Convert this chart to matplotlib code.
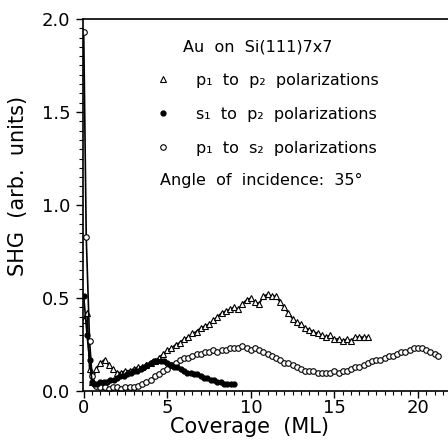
import matplotlib
matplotlib.use("Agg")
import matplotlib.pyplot as plt
from matplotlib.lines import Line2D
from matplotlib.ticker import MultipleLocator

# p1 to p2 (open triangles)
pp_x = [0.0, 0.2, 0.35, 0.5, 0.75, 1.0, 1.25, 1.5, 1.75, 2.0, 2.25, 2.5, 2.75, 3.0, 3.25, 3.5,
        3.75, 4.0, 4.25, 4.5, 4.75, 5.0, 5.25, 5.5, 5.75, 6.0, 6.25, 6.5, 6.75, 7.0, 7.25, 7.5,
        7.75, 8.0, 8.25, 8.5, 8.75, 9.0, 9.25, 9.5, 9.75, 10.0, 10.25, 10.5, 10.75, 11.0, 11.25,
        11.5, 11.75, 12.0, 12.25, 12.5, 12.75, 13.0, 13.25, 13.5, 13.75, 14.0, 14.25, 14.5, 14.75,
        15.0, 15.25, 15.5, 15.75, 16.0, 16.25, 16.5, 16.75, 17.0]
pp_y = [0.38, 0.42, 0.12, 0.05, 0.12, 0.15, 0.17, 0.14, 0.12, 0.10, 0.10, 0.11, 0.11, 0.12, 0.13, 0.13,
        0.14, 0.15, 0.16, 0.18, 0.20, 0.22, 0.23, 0.25, 0.26, 0.28, 0.29, 0.31, 0.32, 0.34, 0.35, 0.36,
        0.38, 0.40, 0.42, 0.43, 0.44, 0.45, 0.44, 0.47, 0.49, 0.50, 0.48, 0.47, 0.51, 0.52, 0.51,
        0.51, 0.48, 0.45, 0.42, 0.39, 0.37, 0.36, 0.34, 0.33, 0.32, 0.31, 0.30, 0.29, 0.30,
        0.28, 0.28, 0.27, 0.28, 0.27, 0.29, 0.29, 0.29, 0.29]

# s1 to p2 (filled circles)
sp_x = [0.0, 0.2, 0.35, 0.5, 0.6, 0.8, 1.0, 1.2, 1.4, 1.6, 1.8, 2.0, 2.2, 2.4, 2.6, 2.8, 3.0, 3.2,
        3.4, 3.6, 3.8, 4.0, 4.2, 4.4, 4.6, 4.8, 5.0, 5.2, 5.4, 5.6, 5.8, 6.0, 6.2, 6.4, 6.6, 6.8,
        7.0, 7.2, 7.4, 7.6, 7.8, 8.0, 8.2, 8.4, 8.6, 8.8, 9.0]
sp_y = [0.51, 0.30, 0.17, 0.05, 0.04, 0.04, 0.05, 0.05, 0.05, 0.06, 0.06, 0.07, 0.08, 0.08, 0.09, 0.10, 0.11, 0.11,
        0.12, 0.13, 0.14, 0.15, 0.16, 0.16, 0.16, 0.16, 0.15, 0.14, 0.13, 0.13, 0.12, 0.11, 0.10, 0.10, 0.09, 0.09,
        0.08, 0.07, 0.07, 0.06, 0.06, 0.05, 0.05, 0.04, 0.04, 0.04, 0.04]

# p1 to s2 (open circles)
ps_x = [0.0, 0.15, 0.35, 0.5, 0.75, 1.0, 1.25, 1.5, 1.75, 2.0, 2.25, 2.5, 2.75, 3.0, 3.25, 3.5,
        3.75, 4.0, 4.25, 4.5, 4.75, 5.0, 5.25, 5.5, 5.75, 6.0, 6.25, 6.5, 6.75, 7.0, 7.25, 7.5,
        7.75, 8.0, 8.25, 8.5, 8.75, 9.0, 9.25, 9.5, 9.75, 10.0, 10.25, 10.5, 10.75, 11.0, 11.25,
        11.5, 11.75, 12.0, 12.25, 12.5, 12.75, 13.0, 13.25, 13.5, 13.75, 14.0, 14.25, 14.5, 14.75,
        15.0, 15.25, 15.5, 15.75, 16.0, 16.25, 16.5, 16.75, 17.0, 17.25, 17.5, 17.75, 18.0, 18.25,
        18.5, 18.75, 19.0, 19.25, 19.5, 19.75, 20.0, 20.25, 20.5, 20.75, 21.0, 21.2]
ps_y = [1.93, 0.83, 0.27, 0.08, 0.03, 0.02, 0.02, 0.01, 0.02, 0.02, 0.01, 0.02, 0.02, 0.02, 0.03, 0.04,
        0.05, 0.06, 0.08, 0.09, 0.11, 0.12, 0.14, 0.15, 0.17, 0.18, 0.18, 0.19, 0.20, 0.20, 0.21, 0.21,
        0.22, 0.21, 0.22, 0.22, 0.23, 0.23, 0.23, 0.24, 0.23, 0.22, 0.23, 0.22, 0.21, 0.20, 0.19,
        0.18, 0.17, 0.15, 0.15, 0.14, 0.13, 0.12, 0.11, 0.11, 0.11, 0.10, 0.10, 0.10, 0.10,
        0.11, 0.10, 0.11, 0.11, 0.12, 0.13, 0.13, 0.14, 0.15, 0.16, 0.17, 0.17, 0.18, 0.19,
        0.19, 0.20, 0.21, 0.21, 0.22, 0.23, 0.23, 0.23, 0.22, 0.21, 0.20, 0.19]

labels = ["p₁  to  p₂  polarizations", "s₁  to  p₂  polarizations", "p₁  to  s₂  polarizations"]
title_text = "Au  on  Si(111)7x7"
footer_text = "Angle  of  incidence:  35°"
x_label = "Coverage  (ML)"
y_label = "SHG  (arb.  units)"

plt.rcParams['font.family'] = ['DejaVu Sans']
fig = plt.figure(figsize=(4.48, 4.40), dpi=100)
ax = fig.add_axes([0.185, 0.111, 0.815, 0.846])

ax.plot(pp_x, pp_y, color='black', lw=1.2, marker='^', ms=4.5, mfc='white', mec='black', mew=0.8)
ax.plot(ps_x, ps_y, color='black', lw=1.2, marker='o', ms=4, mfc='white', mec='black', mew=0.8)
ax.plot(sp_x, sp_y, color='black', lw=1.2, marker='o', ms=3.5, mfc='black', mec='black')

ax.set_xlim(-0.05, 21.8)
ax.set_ylim(0.0, 2.0)
ax.xaxis.set_major_locator(MultipleLocator(5))
ax.xaxis.set_minor_locator(MultipleLocator(0.5))
ax.yaxis.set_major_locator(MultipleLocator(0.5))
ax.yaxis.set_minor_locator(MultipleLocator(0.05))
ax.yaxis.set_major_formatter(plt.FormatStrFormatter('%.1f'))
ax.tick_params(axis='both', which='major', direction='out', length=5, width=1, labelsize=13)
ax.tick_params(axis='both', which='minor', direction='out', length=3, width=0.8)
ax.tick_params(axis='x', pad=1)
ax.tick_params(axis='y', pad=4)
ax.spines['right'].set_visible(False)
for s in ['left', 'bottom', 'top']:
    ax.spines[s].set_linewidth(1.2)

ax.set_xlabel(x_label, fontsize=15)
ax.xaxis.set_label_coords(0.455, -0.07)
ax.set_ylabel(y_label, fontsize=15)
ax.yaxis.set_label_coords(-0.15, 0.55)

ax.text(0.274, 0.925, title_text, transform=ax.transAxes, fontsize=11.5, va='center', ha='left')
ax.text(0.211, 0.567, footer_text, transform=ax.transAxes, fontsize=11.5, va='center', ha='left')

handles = [
    Line2D([], [], linestyle='none', marker='^', ms=4.5, mfc='white', mec='black', mew=0.8),
    Line2D([], [], linestyle='none', marker='o', ms=3.5, mfc='black', mec='black'),
    Line2D([], [], linestyle='none', marker='o', ms=4, mfc='white', mec='black', mew=0.8),
]
ax.legend(handles, labels, loc='upper left', bbox_to_anchor=(0.17, 0.873), frameon=False,
          fontsize=11.5, handlelength=1.5, handletextpad=1.3, labelspacing=1.2, borderaxespad=0)

fig.savefig("out.png", dpi=100)
